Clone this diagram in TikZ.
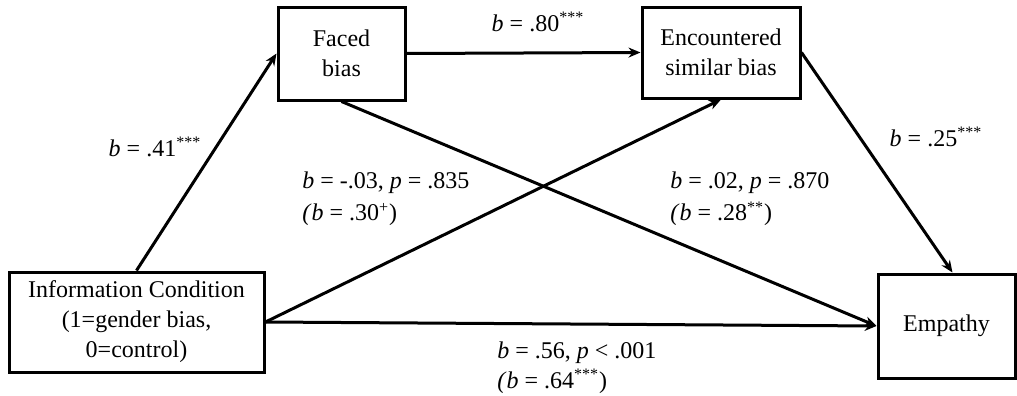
\documentclass[tikz,border=0pt]{standalone}
\usepackage{fontspec}
\setmainfont{Liberation Serif}
\usepackage{tikz}
\usetikzlibrary{arrows.meta}
\tikzset{
  var box/.style={
    draw=black,
    line width=1.5pt,
    rectangle,
    align=center,
    inner sep=2pt,
    font=\fontsize{12}{15}\selectfont
  },
  path arrow/.style={
    -{Stealth[length=6pt, width=5pt]},
    line width=1.5pt,
    color=black
  },
  coef/.style={
    font=\fontsize{12}{15}\selectfont,
    inner sep=0pt
  },
  coef two/.style={
    coef,
    align=left,
    anchor=west,
    font=\fontsize{12}{16}\selectfont
  }
}
\newcommand{\bb}{\textit{b}}
\newcommand{\pp}{\textit{p}}
\newcommand{\sig}[1]{\textsuperscript{#1}}

\begin{document}
\begin{tikzpicture}[x=0.5pt, y=-0.5pt, >=Stealth]
    \useasboundingbox (0,0) rectangle (1017,396);

    % variables
    \node[var box, minimum width=63.5pt, minimum height=46.5pt] (faced) at (341.5,53.5) {Faced\\bias};
    \node[var box, minimum width=79pt, minimum height=45.5pt] (enc) at (721,52.5) {Encountered\\similar bias};
    \node[var box, minimum width=127.5pt, minimum height=50pt] (info) at (136.5,322) {Information Condition\\(1=gender bias,\\0=control)};
    \node[var box, minimum width=68.5pt, minimum height=52pt] (emp) at (946.5,326) {Empathy};

    % paths
    \draw[path arrow] (info.north) -- (faced.west);
    \draw[path arrow] (faced.east) -- (enc.west);
    \draw[path arrow] (enc.east) -- ([xshift=3pt]emp.north);
    \draw[path arrow] (faced.south) -- (emp.west);
    \draw[path arrow] (info.east) -- (enc.south);
    \draw[path arrow] (info.east) -- (emp.west);

    % coefficients
    \node[coef] (a1) at (155,147) {\bb{} = .41\sig{***}};
    \node[coef] (a2) at (538,22) {\bb{} = .80\sig{***}};
    \node[coef] (a3) at (936,137) {\bb{} = .25\sig{***}};
    \node[coef two] (c1) at (302,199) {\bb{} = -.03, \pp{} = .835\\\textit{(}\bb{} = .30\sig{+})};
    \node[coef two] (c2) at (670,199) {\bb{} = .02, \pp{} = .870\\\textit{(}\bb{} = .28\sig{**})};
    \node[coef two, font=\fontsize{12}{15}\selectfont] (c3) at (497,367.5) {\bb{} = .56, \pp{} < .001\\\textit{(}\bb{} = .64\sig{***})};

\end{tikzpicture}
\end{document}
